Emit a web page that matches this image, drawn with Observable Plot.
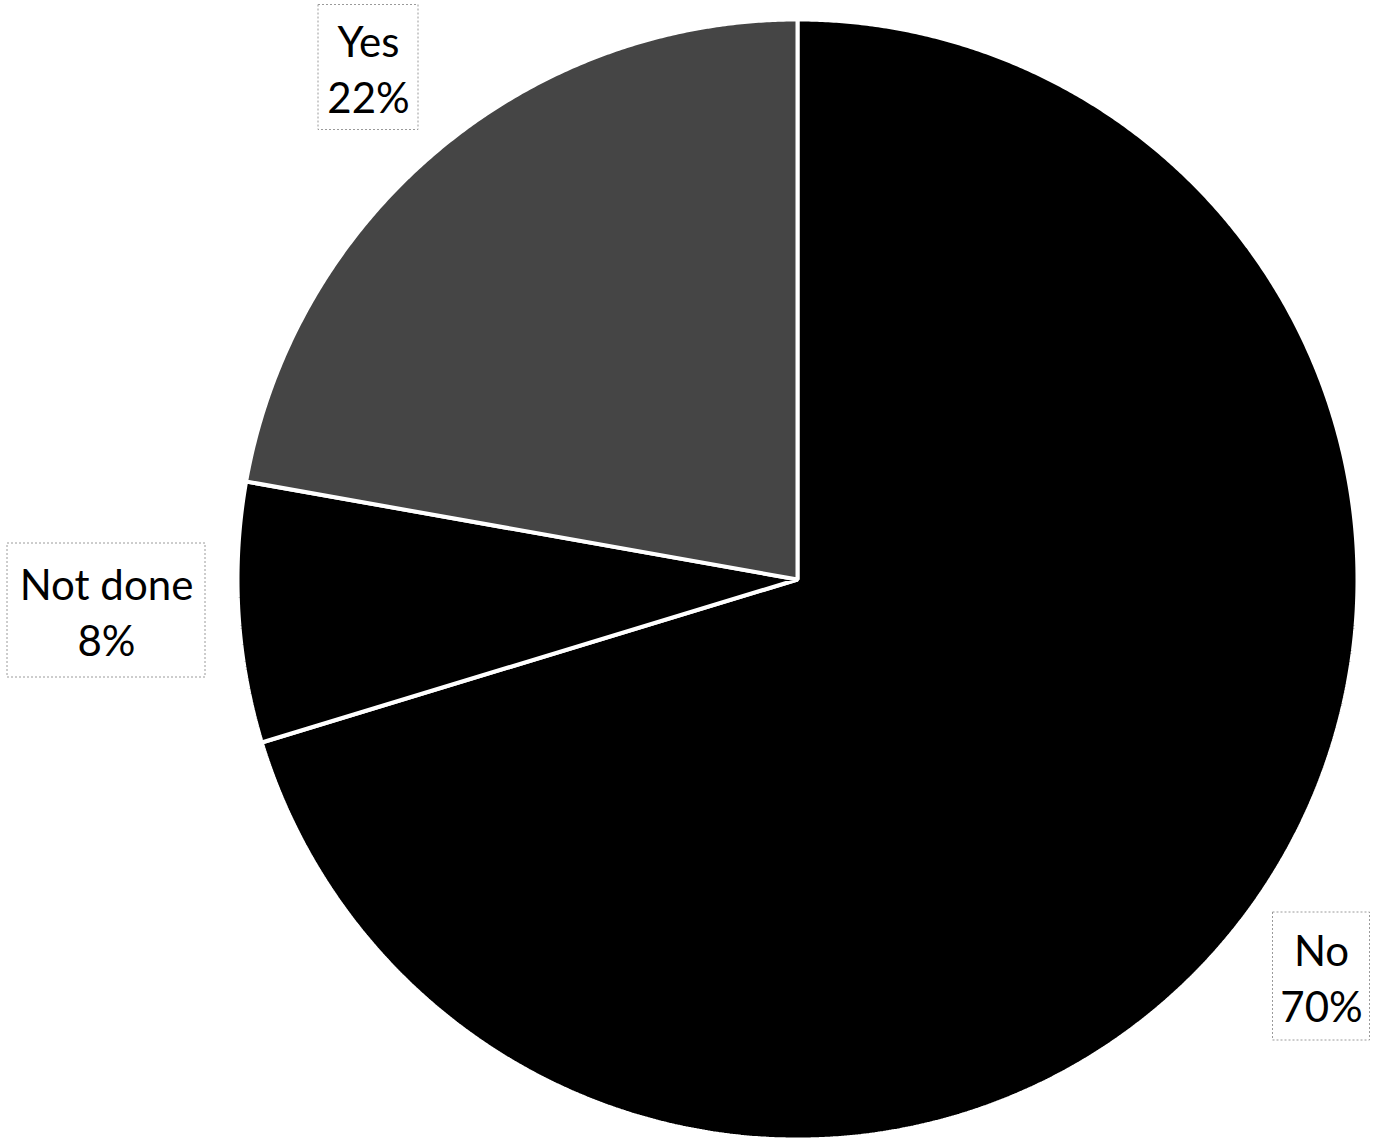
<!DOCTYPE html>
<html>
<head>
<meta charset="utf-8">
<script src="https://cdn.jsdelivr.net/npm/d3@7"></script>
<script src="https://cdn.jsdelivr.net/npm/@observablehq/plot@0.6"></script>
<style>
  html, body { margin: 0; padding: 0; background: #fff; }
  #chart svg { display: block; }
</style>
</head>
<body>
<div id="chart"></div>
<script>
// ---- data ----
const categories = ["No", "Not done", "Yes"];
// slice sizes as measured from the slice angles
const percents = [70.3, 7.5, 22.2];
// percentages printed on the labels
const labelPercents = [70, 8, 22];
const fills = ["#000000", "#000000", "#454545"];

// ---- layout ----
const W = 1374, H = 1141;
const cx = 797, cy = 579, R = 560;
// label box centers and sizes (px)
const labelLayout = {
  "No":       {x: 1321, y: 976, w: 97,  h: 128},
  "Not done": {x: 106,  y: 610, w: 198, h: 134},
  "Yes":      {x: 368,  y: 67,  w: 100, h: 125}
};

const table = categories.map((c, i) => ({category: c, value: percents[i], label: labelPercents[i], fill: fills[i]}));
const pie = d3.pie().sort(null).value(d => d.value)(table);

const slices = [];
for (const p of pie) {
  const n = Math.max(8, Math.ceil((p.endAngle - p.startAngle) / 0.005));
  slices.push({cat: p.data.category, fill: p.data.fill, x: cx, y: cy});
  for (let k = 0; k <= n; k++) {
    const a = p.startAngle + (p.endAngle - p.startAngle) * k / n;
    slices.push({cat: p.data.category, fill: p.data.fill, x: cx + R * Math.sin(a), y: cy - R * Math.cos(a)});
  }
}

const labels = table.map(d => ({
  ...d,
  text: `${d.category}\n${d.label}%`,
  ...labelLayout[d.category]
}));

const chart = Plot.plot({
  width: W,
  height: H,
  margin: 0,
  x: {domain: [0, W], range: [0, W], axis: null},
  y: {domain: [0, H], range: [0, H], axis: null},
  style: {background: "#fff"},
  marks: [
    Plot.line(slices, {
      x: "x", y: "y", z: "cat",
      fill: d => d.fill,
      stroke: "#fff", strokeWidth: 4, strokeLinejoin: "miter",
      curve: "linear-closed"
    }),
    Plot.rect(labels, {
      x1: d => d.x - d.w / 2, x2: d => d.x + d.w / 2,
      y1: d => d.y - d.h / 2, y2: d => d.y + d.h / 2,
      fill: "#fff", stroke: "#9a9a9a", strokeWidth: 1, strokeDasharray: "2,2"
    }),
    Plot.text(labels, {
      x: "x", y: "y", text: "text",
      fontSize: 42, lineHeight: 1.33,
      fontFamily: "Lato, 'Open Sans', sans-serif",
      fill: "#000", textAnchor: "middle"
    })
  ]
});
document.getElementById("chart").append(chart);
</script>
</body>
</html>
